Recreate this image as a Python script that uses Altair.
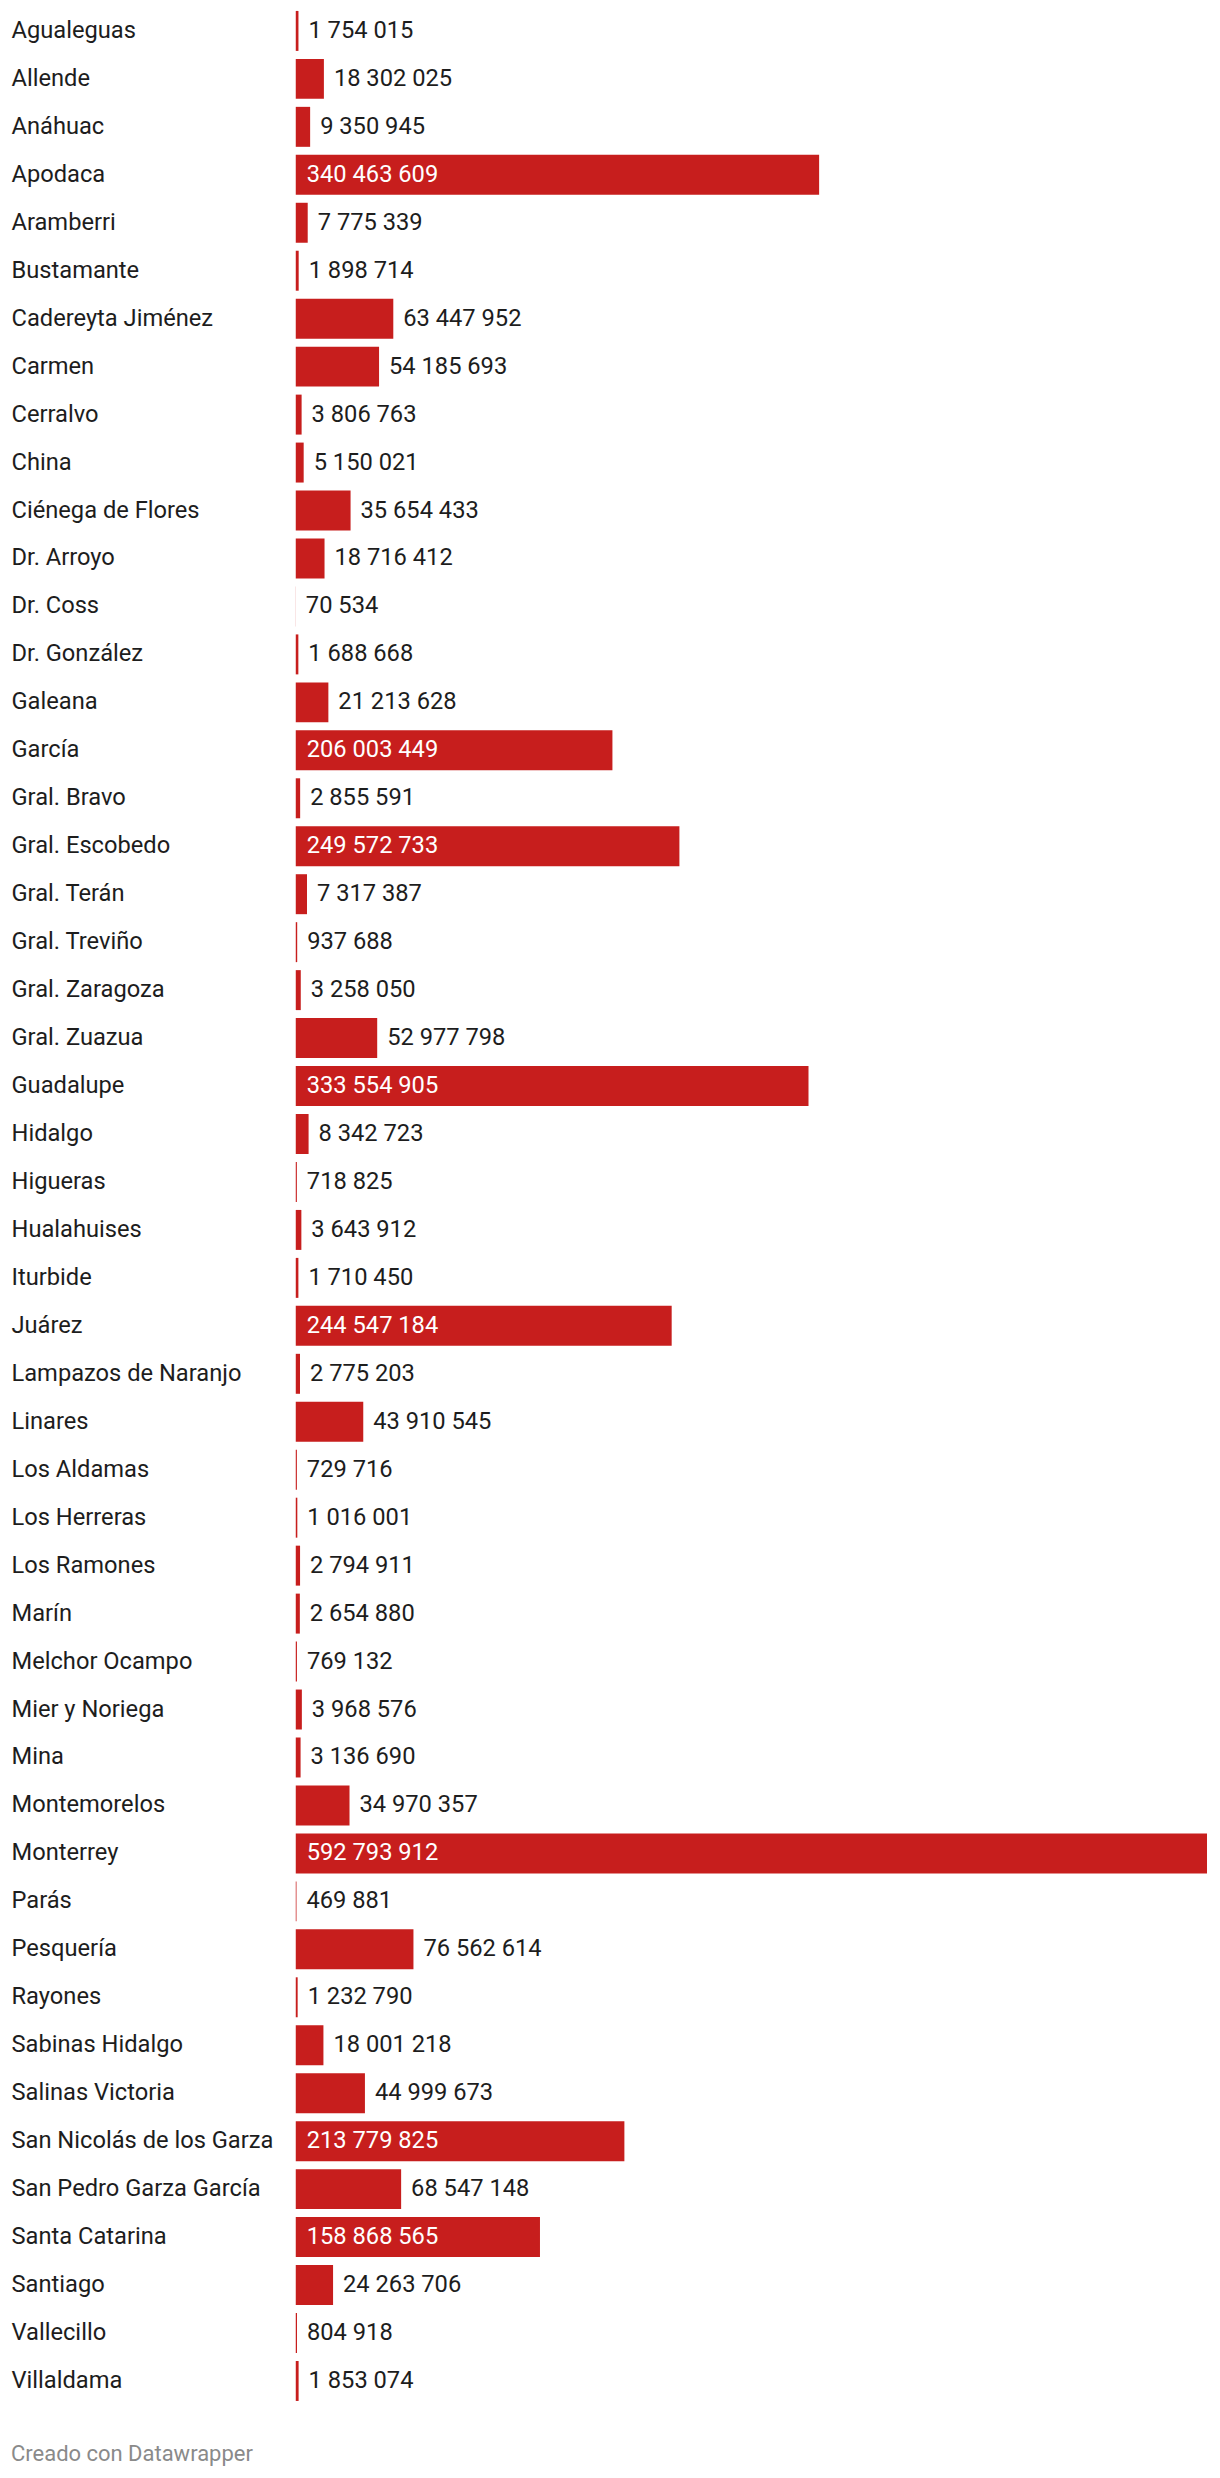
import altair as alt
import pandas as pd

municipios = [
    "Agualeguas", "Allende", "Anáhuac", "Apodaca", "Aramberri", "Bustamante",
    "Cadereyta Jiménez", "Carmen", "Cerralvo", "China", "Ciénega de Flores",
    "Dr. Arroyo", "Dr. Coss", "Dr. González", "Galeana", "García", "Gral. Bravo",
    "Gral. Escobedo", "Gral. Terán", "Gral. Treviño", "Gral. Zaragoza",
    "Gral. Zuazua", "Guadalupe", "Hidalgo", "Higueras", "Hualahuises", "Iturbide",
    "Juárez", "Lampazos de Naranjo", "Linares", "Los Aldamas", "Los Herreras",
    "Los Ramones", "Marín", "Melchor Ocampo", "Mier y Noriega", "Mina",
    "Montemorelos", "Monterrey", "Parás", "Pesquería", "Rayones",
    "Sabinas Hidalgo", "Salinas Victoria", "San Nicolás de los Garza",
    "San Pedro Garza García", "Santa Catarina", "Santiago", "Vallecillo",
    "Villaldama",
]

valores = [
    1754015, 18302025, 9350945, 340463609, 7775339, 1898714,
    63447952, 54185693, 3806763, 5150021, 35654433,
    18716412, 70534, 1688668, 21213628, 206003449, 2855591,
    249572733, 7317387, 937688, 3258050,
    52977798, 333554905, 8342723, 718825, 3643912, 1710450,
    244547184, 2775203, 43910545, 729716, 1016001,
    2794911, 2654880, 769132, 3968576, 3136690,
    34970357, 592793912, 469881, 76562614, 1232790,
    18001218, 44999673, 213779825,
    68547148, 158868565, 24263706, 804918,
    1853074,
]

df = pd.DataFrame({"municipio": municipios, "valor": valores})
df["etiqueta"] = df["valor"].map(lambda v: f"{v:,}".replace(",", " "))
df["dentro"] = df["valor"] > 100_000_000

FONT = "Roboto"
RED = "#c71e1d"
FS = 23.7

y_enc = alt.Y(
    "municipio:N",
    sort=municipios,
    scale=alt.Scale(paddingInner=1 / 6, paddingOuter=0.04),
    axis=alt.Axis(
        title=None,
        orient="left",
        labelAlign="left",
        labelPadding=285,
        labelFont=FONT,
        labelFontSize=FS,
        labelColor="#1d1d1d",
        labelLimit=290,
        ticks=False,
        domain=False,
    ),
)
x_enc = alt.X(
    "valor:Q",
    scale=alt.Scale(nice=False, zero=True),
    axis=None,
)

bars = alt.Chart(df).mark_bar(color=RED).encode(x=x_enc, y=y_enc)

outside = (
    alt.Chart(df)
    .transform_filter("!datum.dentro")
    .mark_text(align="left", baseline="middle", dx=10, font=FONT, fontSize=FS, color="#1d1d1d")
    .encode(x=x_enc, y=y_enc, text="etiqueta:N")
)

inside = (
    alt.Chart(df)
    .transform_filter("datum.dentro")
    .mark_text(align="left", baseline="middle", dx=11, font=FONT, fontSize=FS, color="#ffffff")
    .encode(x=alt.datum(0), y=y_enc, text="etiqueta:N")
)

chart = (
    alt.layer(bars, outside, inside)
    .properties(
        width=912,
        height=alt.Step(48),
        background="#ffffff",
        padding={"left": 3, "top": 0, "right": 5, "bottom": 5},
        title=alt.TitleParams(
            text="Creado con Datawrapper",
            orient="bottom",
            anchor="start",
            frame="bounds",
            font=FONT,
            fontSize=22,
            fontWeight="normal",
            color="#8a8a8a",
            offset=41,
        ),
    )
    .configure_view(strokeWidth=0, stroke="transparent")
)

chart.save("out.html", embed_options={"renderer": "svg", "actions": False})
